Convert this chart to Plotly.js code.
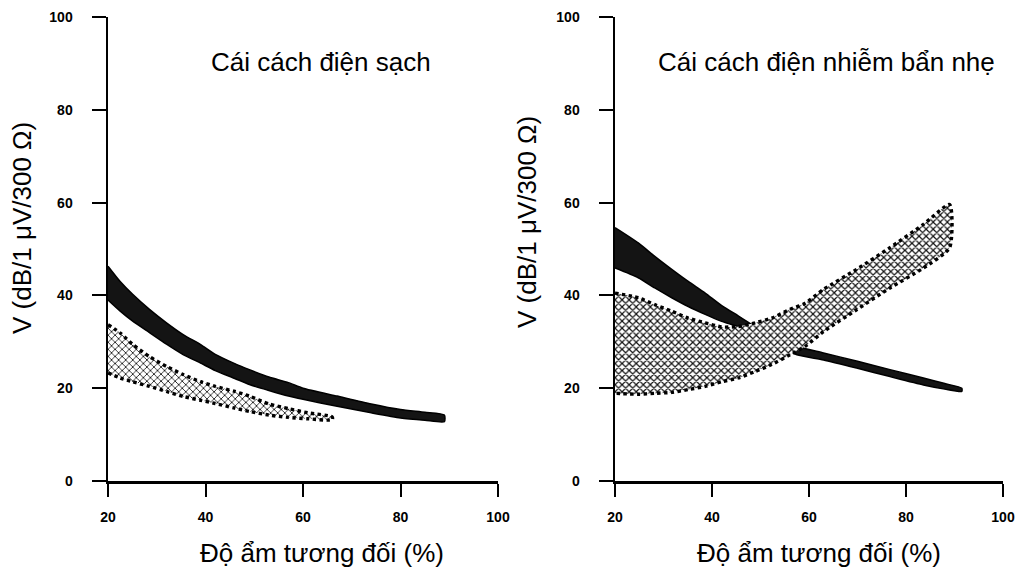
<!DOCTYPE html>
<html>
<head>
<meta charset="utf-8">
<script src="https://cdn.plot.ly/plotly-3.0.1.min.js"></script>
<style>html,body{margin:0;padding:0;background:#fff;}#chart{width:1019px;height:571px;}</style>
</head>
<body>
<div id="chart"></div>
<script>
// ---------- DATA ----------
const xTicks = [20, 40, 60, 80, 100];
const yTicks = [0, 20, 40, 60, 80, 100];

const panelTitles = ["Cái cách điện sạch", "Cái cách điện nhiễm bẩn nhẹ"];
const xTitle = "Độ ẩm tương đối (%)";
const yTitle = "V (dB/1 μV/300 Ω)";

// Left panel: clean insulator
const leftSolidX     = [20, 22.5, 25, 28.5, 32, 35.5, 39, 42, 46, 49, 53, 57, 60, 67, 74, 80, 85, 89];
const leftSolidUpper = [46.3, 43.0, 40.3, 37.0, 34.1, 31.5, 29.4, 27.3, 25.3, 24.0, 22.4, 21.2, 20.0, 18.3, 16.6, 15.4, 14.8, 14.2];
const leftSolidLower = [39.0, 36.6, 34.5, 32.0, 29.5, 27.2, 25.4, 23.8, 22.1, 20.8, 19.5, 18.3, 17.6, 16.1, 14.7, 13.6, 13.1, 12.8];

const leftDotX     = [20, 22.5, 25, 28.5, 32, 35.5, 39, 42, 46, 49, 53, 57, 61, 66];
const leftDotUpper = [33.7, 31.9, 29.5, 26.8, 24.7, 22.9, 21.4, 20.4, 19.3, 18.3, 16.6, 15.6, 14.7, 13.8];
const leftDotLower = [23.3, 22.2, 21.4, 20.4, 19.3, 18.2, 17.4, 16.7, 15.7, 15.0, 14.2, 13.7, 13.4, 13.2];

// Right panel: lightly polluted insulator
const rightSolidX     = [20, 24.8, 28.2, 31.7, 35.1, 38.6, 42, 45.4, 47.5, 50, 54, 57.5, 63, 70, 76.7, 83.6, 88, 91.5];
const rightSolidUpper = [54.6, 51.3, 48.4, 45.6, 43.0, 40.5, 37.8, 35.6, 34.2, 32.6, 30.5, 29.0, 27.6, 25.8, 24.0, 22.2, 21.0, 20.0];
const rightSolidLower = [45.9, 43.8, 41.6, 39.5, 37.6, 35.9, 34.4, 33.3, 32.6, 31.4, 29.0, 27.2, 26.1, 24.3, 22.5, 20.7, 19.8, 19.3];

const rightDotX     = [20, 24.8, 28.2, 31.7, 35.1, 38.6, 42, 45.4, 48.9, 52.3, 56.1, 59.2, 63, 69.8, 76.7, 83.6, 89];
const rightDotUpper = [40.5, 39.5, 38.0, 36.6, 35.1, 34.1, 33.2, 33.3, 34.1, 35.1, 37.0, 38.3, 41.3, 45.6, 50.3, 55.3, 59.6];
const rightDotLower = [18.9, 18.7, 18.9, 19.1, 19.7, 20.4, 21.4, 22.2, 23.6, 25.1, 27.2, 29.0, 32.2, 36.9, 41.6, 45.9, 50.3];

// ---------- BUILD ----------
function band(x, up, lo, xa, ya, style) {
  const px = x.concat(x.slice().reverse());
  const py = up.concat(lo.slice().reverse());
  const t = {
    type: 'scatter', mode: 'lines', x: px, y: py, xaxis: xa, yaxis: ya,
    fill: 'toself', hoverinfo: 'skip', showlegend: false
  };
  if (style === 'solid') {
    t.fillcolor = '#141414';
    t.line = {color: '#000', width: 1.5, shape: 'spline', smoothing: 0.6};
  } else {
    t.fillcolor = '#ffffff';
    t.fillpattern = {shape: 'x', fgcolor: '#111111', bgcolor: '#ffffff', size: 5,
                     solidity: style === 'dotLight' ? 0.3 : 0.42, fillmode: 'replace'};
    t.line = {color: '#000', width: 3.4, dash: 'dot', shape: 'spline', smoothing: 0.6};
  }
  return t;
}

const data = [
  band(leftSolidX, leftSolidUpper, leftSolidLower, 'x', 'y', 'solid'),
  band(leftDotX, leftDotUpper, leftDotLower, 'x', 'y', 'dotLight'),
  band(rightSolidX, rightSolidUpper, rightSolidLower, 'x2', 'y2', 'solid'),
  band(rightDotX, rightDotUpper, rightDotLower, 'x2', 'y2', 'dot')
];

const W = 1019, H = 571;
const tickFont = {family: 'Liberation Sans, Arial, sans-serif', size: 14, color: '#000', weight: 'bold'};
function xAxis(l, r, anchor) {
  return {
    domain: [l / W, r / W], range: [20, 100], anchor: anchor,
    tickvals: xTicks, ticks: 'outside', ticklen: 13, tickwidth: 2, tickcolor: '#000',
    showline: true, linewidth: 2.5, linecolor: '#000', showgrid: false, zeroline: false,
    tickfont: tickFont, ticklabelstandoff: 9, fixedrange: true
  };
}
function yAxis(anchor) {
  return {
    domain: [(H - 481) / H, (H - 17) / H], range: [0, 100], anchor: anchor,
    tickvals: yTicks, ticks: 'outside', ticklen: 14, tickwidth: 1.8, tickcolor: '#000',
    showline: true, linewidth: 2.5, linecolor: '#000', showgrid: false, zeroline: false,
    tickfont: tickFont, ticklabelstandoff: 16, fixedrange: true
  };
}

const txtFont = {family: 'Liberation Sans, Arial, sans-serif', size: 26, color: '#000'};
const annotations = [
  {text: panelTitles[0], xref: 'x', yref: 'y', x: 40.8, y: 90.3, xanchor: 'left', yanchor: 'middle', showarrow: false, font: txtFont},
  {text: panelTitles[1], xref: 'x2', yref: 'y2', x: 28.4, y: 90.3, xanchor: 'left', yanchor: 'middle', showarrow: false, font: txtFont},
  {text: xTitle, xref: 'paper', yref: 'paper', x: 322 / W, y: (H - 553) / H, xanchor: 'center', yanchor: 'middle', showarrow: false, font: txtFont},
  {text: xTitle, xref: 'paper', yref: 'paper', x: 819 / W, y: (H - 553) / H, xanchor: 'center', yanchor: 'middle', showarrow: false, font: txtFont},
  {text: yTitle, xref: 'paper', yref: 'paper', x: 22 / W, y: (H - 228) / H, xanchor: 'center', yanchor: 'middle', textangle: -90, showarrow: false, font: txtFont},
  {text: yTitle, xref: 'paper', yref: 'paper', x: 527 / W, y: (H - 222) / H, xanchor: 'center', yanchor: 'middle', textangle: -90, showarrow: false, font: txtFont}
];

const layout = {
  width: W, height: H,
  margin: {l: 0, r: 0, t: 0, b: 0, pad: 0},
  paper_bgcolor: '#fff', plot_bgcolor: '#fff',
  showlegend: false,
  xaxis: xAxis(108, 498, 'y'),
  yaxis: yAxis('x'),
  xaxis2: xAxis(615, 1003, 'y2'),
  yaxis2: yAxis('x2'),
  annotations: annotations
};

Plotly.newPlot('chart', data, layout, {displayModeBar: false, staticPlot: true});
</script>
</body>
</html>
